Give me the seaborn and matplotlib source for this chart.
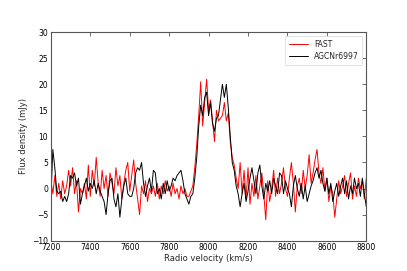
import numpy as np
import pandas as pd
import matplotlib
matplotlib.use('Agg')
import matplotlib.pyplot as plt
import seaborn as sns

# velocidad (km/s), canales cada 10 km/s
velocity = np.arange(7200, 8801, 10)

# espectro FAST (mJy)
flux_fast = [
    1.5, -1.0, 2.5, -1.5, 1.0, -2.0, 1.5, -1.0, 0.5, 3.5,
    0.5, 4.0, -1.0, 1.5, -4.5, 0.0, -1.0, 1.0, -2.0, 4.5,
    -1.5, 3.5, 0.5, 6.0, 1.0, -1.5, 3.5, 0.0, 2.5, -1.5,
    3.0, 1.0, -1.0, 4.0, 0.5, 2.5, -2.0, 1.0, 3.5, 5.0,
    -0.5, 2.5, 5.5, 1.0, -2.0, -5.0, 0.5, -1.0, 1.5, -2.5,
    0.0, -1.0, 0.5, -1.5, 1.0, -2.0, 0.5, -1.0, 1.5, -0.5,
    0.5, -1.5, 1.0, -1.0, 0.0, -2.0, 0.5, -1.0, 0.0, -1.5,
    -1.5, -0.5, 0.5, 4.0, 8.5, 14.0, 20.5, 12.0, 16.5, 21.0,
    15.0, 17.0, 13.0, 9.0, 15.0, 13.0, 13.5, 14.0, 16.5, 13.0,
    14.5, 9.0, 6.0, 4.5, 2.0,
    0.0, 5.0, -1.0, 3.5, -2.0, 4.0, -3.0, 1.0, -1.5, 2.5,
    -2.0, 0.5, 3.0, -1.0, -6.0, 1.5, -2.5, 0.0, 3.5, -1.5,
    2.0, -1.0, 1.0, 4.0, 0.0, -1.5, 2.0, 5.0, 1.0, -4.5,
    0.5, 2.0, -1.0, 3.5, 0.0, 2.5, 6.5, 1.0, 3.0, 5.5,
    7.5, 3.0, 1.0, 4.0, -0.5, 2.0, -2.5, 0.5, -1.0, -5.5,
    -2.0, 1.5, -1.0, 0.5, 2.5, -1.5, 1.0, 3.0, -2.0, 0.5,
    -1.5, 2.0, 0.0, 1.5, -2.0, 2.0,
]

# espectro AGC (mJy)
flux_agc = [
    -2.0, 7.5, 4.0, -0.5, -1.0, -0.5, -2.5, -1.5, -2.5, -1.0,
    2.5, 2.0, 3.0, 0.5, 2.0, -3.0, -1.0, 0.5, 2.0, -0.5,
    1.0, 0.0, 1.5, -1.0, 1.0, -0.5, -1.5, -2.5, -5.0, -1.0,
    1.5, 2.0, -2.0, -3.5, -1.0, -5.5, -2.0, 0.5, 2.0, -1.0,
    -1.5, -1.5, 0.0, 3.0, 4.0, 3.5, 5.0, 1.0, -1.5, 0.5,
    2.0, -0.5, 3.5, 3.0, -1.0, 0.0, -2.0, 1.0, -1.0, 1.5,
    -0.5, 0.5, 2.0, 1.5, 2.5, 3.0, 3.5, 1.5, -1.0, -2.0,
    -3.0, -1.5, -1.0, 2.0, 6.0, 12.0, 16.0, 14.0, 17.5, 18.5,
    14.0, 16.5, 12.5, 11.0, 13.5, 14.0, 17.0, 20.0, 17.5, 20.0,
    15.5, 10.0, 5.0, 3.5, 0.5,
    -1.0, -3.5, -1.0, 1.0, -2.5, -0.5, 2.0, 4.0, 1.5, -1.0,
    3.0, 4.5, 0.5, -2.0, 1.0, -0.5, 1.5, -1.0, 2.0, 0.5,
    -1.0, 3.0, 2.5, -1.0, 1.5, 0.0, -1.0, -3.5, 0.5, 2.5,
    0.0, -1.5, 1.0, -2.0, 0.5, -2.5, -1.0, 0.5, 1.5, 3.0,
    4.0, 2.0, 3.5, 1.0, -0.5, 2.0, -1.0, 1.0, -2.5, -0.5,
    1.0, -1.5, 0.5, 2.0, -1.0, 1.5, -2.0, 0.5, -1.0, 2.0,
    0.0, 1.0, -1.5, 2.0, -1.0, -3.5,
]

x_ticks = list(range(7200, 8801, 200))
y_ticks = list(range(-10, 31, 5))

df = pd.DataFrame({'vel': velocity, 'FAST': flux_fast, 'AGCNr6997': flux_agc})

sns.set_style('white')
plt.rcParams['font.family'] = ['DejaVu Sans']

fig = plt.figure(figsize=(4.07, 2.71), dpi=100)
ax = fig.add_axes([0.125, 0.112, 0.775, 0.769])

sns.lineplot(data=df, x='vel', y='FAST', color='#ff0000', lw=0.7, label='FAST', ax=ax)
sns.lineplot(data=df, x='vel', y='AGCNr6997', color='black', lw=0.7, label='AGCNr6997', ax=ax)

ax.set_xlim(7200, 8800)
ax.set_ylim(-10, 30)
ax.set_xticks(x_ticks)
ax.set_yticks(y_ticks)
ax.tick_params(direction='in', length=3, width=0.5, labelsize=5.5, pad=2,
               top=True, right=True, colors='#333333', labelcolor='black')
for s in ax.spines.values():
    s.set_color('#555555')
    s.set_linewidth(0.8)

ax.set_xlabel('Radio velocity (km/s)', fontsize=6, labelpad=1)
ax.set_ylabel('Flux density (mJy)', fontsize=6, labelpad=3)

leg = ax.legend(loc='upper right', fontsize=5.5, frameon=True, handlelength=2.5,
                borderpad=0.5, labelspacing=0.4)
leg.get_frame().set_edgecolor('#cccccc')
leg.get_frame().set_linewidth(0.5)

fig.savefig('out.png', dpi=100)
